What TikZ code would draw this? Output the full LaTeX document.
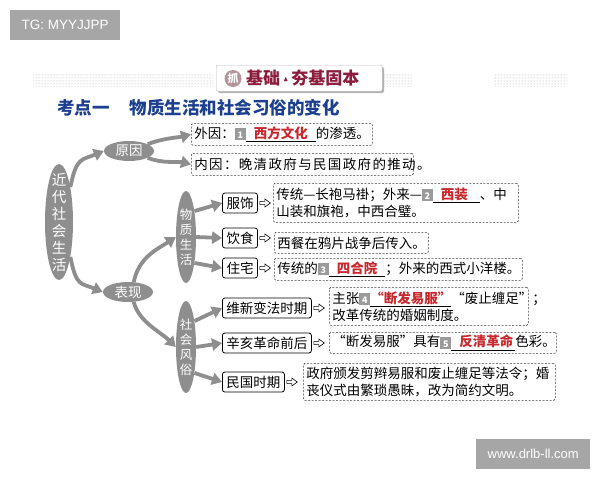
\documentclass[tikz,border=0pt]{standalone}
\usepackage{amssymb}
\usepackage{fontspec}
\setmainfont{Noto Sans CJK SC}
\newfontfamily\wmfont{Liberation Sans}
\usetikzlibrary{arrows.meta,shapes.geometric,patterns,positioning}

\definecolor{mapgray}{HTML}{8E8E8E}
\definecolor{wmgray}{HTML}{A6A6A6}
\definecolor{numgray}{HTML}{9A9A9A}
\definecolor{ansred}{HTML}{C8282E}
\definecolor{titleblue}{HTML}{1D3F8F}
\definecolor{headred}{HTML}{8C1C3C}
\definecolor{roseg}{HTML}{B3959A}

\newcommand{\notesize}{\fontsize{13.5}{17}\selectfont}
% gray number square and underlined answer
\newcommand{\numsq}[1]{{\setlength\fboxsep{1pt}\raisebox{-0.5pt}{\colorbox{numgray}{\makebox[9pt][c]{\rule[-0.5pt]{0pt}{10pt}\color{white}\fontsize{9}{9}\selectfont\bfseries #1}}}}}
\newcommand{\ans}[3]{\underline{\hspace{#1}\textcolor{ansred}{\bfseries #2}\hspace{#3}}}
% hollow arrow after a box
\newcommand{\hollowarr}[1]{\draw[line width=0.6pt, fill=white] ([xshift=2pt]#1.east) ++(0,-1.6) -- ++(5,0) -- ++(0,-2.4) -- ++(5.5,4) -- ++(-5.5,4) -- ++(0,-2.4) -- ++(-5,0) -- cycle;}

\begin{document}
\begin{tikzpicture}[x=1pt,y=-1pt,
  grayell/.style={ellipse, fill=mapgray, inner sep=0pt},
  elltext/.style={text=white, align=center, inner sep=0pt},
  fatarrow/.style={draw=mapgray, line width=3.8pt, -{Triangle[length=10pt,width=12pt]}},
  itembox/.style={draw, line width=0.8pt, rounded corners=2.5pt, minimum height=20pt, inner xsep=4pt, inner ysep=0pt, font=\notesize},
  notebox/.style={draw=black!75, line width=0.7pt, dash pattern=on 2pt off 1.5pt, rounded corners=1.5pt, anchor=north west, align=left, inner xsep=3pt, inner ysep=1pt, font=\notesize},
  wmbox/.style={fill=wmgray, text=white, anchor=north west, inner sep=0pt, font=\wmfont\fontsize{13.5}{14}\selectfont}]
\path[use as bounding box, fill=white] (0,0) rectangle (600,480);

% watermarks
\node[wmbox, minimum width=110, minimum height=30] (wmtop) at (10,10) {TG: MYYJJPP};
\node[wmbox, minimum width=114, minimum height=30, font=\wmfont\fontsize{13}{14}\selectfont] (wmbot) at (476,439) {www.drlb-ll.com};

% header banner
\fill[pattern=dots, pattern color=gray!70] (33,74) rectangle (213,86);
\fill[pattern=dots, pattern color=gray!70] (384,74) rectangle (413,86);
\fill[pattern=dots, pattern color=gray!70] (493,74) rectangle (567,86);
\fill[gray!60, rounded corners=2pt] (218,67) rectangle (384,93);
\node[draw=gray!50, fill=white, rounded corners=2pt, anchor=north west, minimum width=166, minimum height=26] (head) at (216,65) {};
\node[circle, fill=roseg, inner sep=0pt, minimum size=17, text=white, font=\fontsize{11}{11}\selectfont\bfseries] (grab) at (233,78.5) {抓};
\node[anchor=west, inner sep=0pt, text=headred, font=\fontsize{17}{17}\selectfont\bfseries] (headtxt) at (246,78.5) {基础\,\raisebox{3pt}{\fontsize{7}{7}\selectfont$\blacktriangle$}\,夯基固本};

% title
\node[anchor=west, inner sep=0pt, text=titleblue, font=\fontsize{17.5}{17.5}\selectfont\bfseries] (title) at (57,108) {考点一\hspace{20pt}物质生活和社会习俗的变化};

% ellipses
\node[grayell, minimum width=28, minimum height=116] (root) at (59,222) {};
\node[elltext, font=\fontsize{14.5}{17}\selectfont] (rootlbl) at (root) {近\\代\\社\\会\\生\\活};
\node[grayell, minimum width=50, minimum height=20] (cause) at (129,151) {};
\node[elltext, font=\notesize] (causelbl) at (cause) {原因};
\node[grayell, minimum width=50, minimum height=20] (show) at (128,292) {};
\node[elltext, font=\notesize] (showlbl) at (show) {表现};
\node[grayell, minimum width=20, minimum height=92] (mat) at (186,237) {};
\node[elltext, font=\fontsize{12.5}{15}\selectfont] (matlbl) at (mat) {物\\质\\生\\活};
\node[grayell, minimum width=20, minimum height=92] (soc) at (186,347) {};
\node[elltext, font=\fontsize{12.5}{15}\selectfont] (soclbl) at (soc) {社\\会\\风\\俗};

% cause notes
\node[notebox, text width=175, minimum height=22] (ext) at (191,123) {外因：\numsq{1}\ans{8pt}{西方文化}{8pt}的渗透。};
\node[notebox, text width=216, minimum height=22] (int) at (191,153) {\addfontfeature{LetterSpace=10}内因：晚清政府与民国政府的推动。};

% item boxes
\node[itembox] (cloth) at (240,203) {服饰};
\node[itembox] (food) at (240,238) {饮食};
\node[itembox] (house) at (240,268) {住宅};
\node[itembox, anchor=west] (reform) at (222,308) {维新变法时期};
\node[itembox, anchor=west] (xinhai) at (222,343) {辛亥革命前后};
\node[itembox, anchor=west] (minguo) at (222,382) {民国时期};

% item notes
\node[notebox, text width=239, minimum height=39] (clothN) at (273,183) {传统—长袍马褂；外来—\numsq{2}\ans{8pt}{西装}{12pt}、中\\山装和旗袍，中西合璧。};
\node[notebox, text width=148, minimum height=21] (foodN) at (274,232) {西餐在鸦片战争后传入。};
\node[notebox, text width=242, minimum height=22] (houseN) at (274,258) {传统的\numsq{3}\ans{8pt}{四合院}{8pt}；外来的西式小洋楼。};
\node[notebox, text width=193, minimum height=38] (reformN) at (329,287) {主张\numsq{4}\ans{0pt}{“断发易服”}{0pt}“废止缠足”；\\改革传统的婚姻制度。};
\node[notebox, text width=221, minimum height=21] (xinhaiN) at (329,332) {“断发易服”具有\numsq{5}\ans{8pt}{反清革命}{2pt}色彩。};
\node[notebox, text width=246, minimum height=37] (minguoN) at (303,363) {政府颁发剪辫易服和废止缠足等法令；婚\\丧仪式由繁琐愚昧，改为简约文明。};

% fat arrows
\draw[fatarrow] (root.72) .. controls +(6,-30) and +(-22,9) .. (cause.west);
\draw[fatarrow] (root.-72) .. controls +(6,30) and +(-22,-9) .. (show.west);
\draw[fatarrow] (cause.20) .. controls +(15,-6) and +(-12,3) .. (ext.west);
\draw[fatarrow] (cause.-20) .. controls +(15,6) and +(-12,-3) .. (int.west);
\draw[fatarrow] (show.60) .. controls +(5,-25) and +(-18,12) .. (mat.west);
\draw[fatarrow] (show.-60) .. controls +(5,20) and +(-15,-15) .. (soc.west);
\draw[fatarrow] (mat.72) -- (cloth.west);
\draw[fatarrow] (mat.east) -- (food.west);
\draw[fatarrow] (mat.-72) -- (house.west);
\draw[fatarrow] (soc.72) -- (reform.west);
\draw[fatarrow] (soc.east) -- (xinhai.west);
\draw[fatarrow] (soc.-72) -- (minguo.west);

% hollow arrows
\hollowarr{cloth}
\hollowarr{food}
\hollowarr{house}
\hollowarr{reform}
\hollowarr{xinhai}
\hollowarr{minguo}

\end{tikzpicture}
\end{document}
